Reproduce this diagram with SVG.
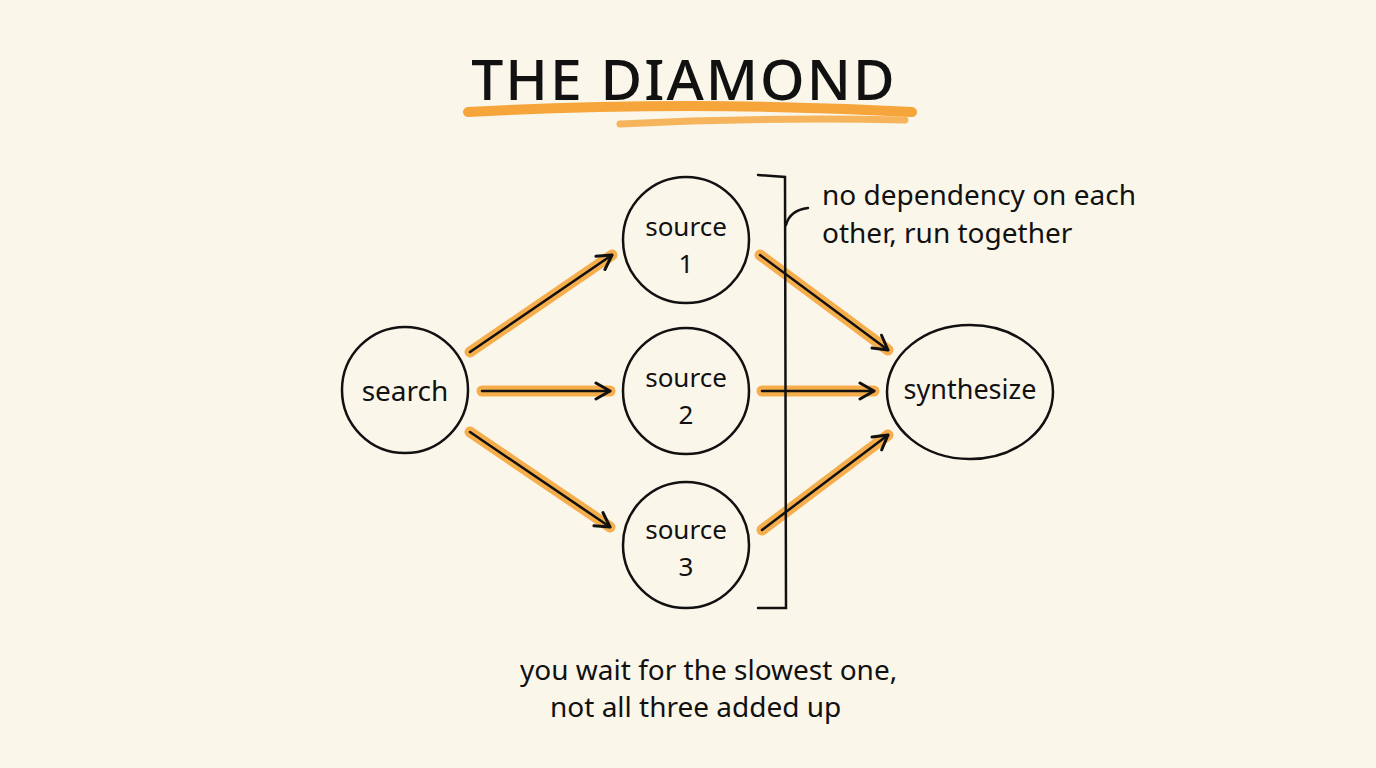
<svg xmlns="http://www.w3.org/2000/svg" width="1376" height="768" viewBox="0 0 1376 768">
<defs>
<marker id="ah" viewBox="0 0 20 20" refX="17" refY="10" markerWidth="20" markerHeight="20" markerUnits="userSpaceOnUse" orient="auto">
<path d="M3,2 L17,10 L3,18" fill="none" stroke="#111" stroke-width="3" stroke-linecap="round" stroke-linejoin="round"/>
</marker>
<style>
.n{fill:none;stroke:#111;stroke-width:2.5}
.t{font-family:"Noto Sans",sans-serif;fill:#111;text-anchor:middle}
.glow{stroke:#f5a53a;stroke-width:11;stroke-linecap:round;fill:none;opacity:0.9}
.ln{stroke:#111;stroke-width:2.5;fill:none;stroke-linecap:round}
</style>
</defs>
<rect width="1376" height="768" fill="#fbf6ea"/>
<g id="title">
<path d="M468,112 Q690,100 912,112" stroke="#f5a53a" stroke-width="10" stroke-linecap="round" fill="none"/>
<path d="M620,124 Q760,117 905,120" stroke="#f5a53a" stroke-width="7" stroke-linecap="round" fill="none" opacity="0.8"/>
<text x="684" y="100" class="t" font-size="57" letter-spacing="2" font-weight="500">THE DIAMOND</text>
</g>
<g id="connectors">
<path class="glow" d="M470,352 L612,255"/><path class="ln" d="M470,352 L612,255" marker-end="url(#ah)"/>
<path class="glow" d="M482,391 L610,391"/><path class="ln" d="M482,391 L610,391" marker-end="url(#ah)"/>
<path class="glow" d="M470,432 L610,527"/><path class="ln" d="M470,432 L610,527" marker-end="url(#ah)"/>
<path class="glow" d="M760,255 L888,350"/><path class="ln" d="M760,255 L888,350" marker-end="url(#ah)"/>
<path class="glow" d="M762,391 L874,391"/><path class="ln" d="M762,391 L874,391" marker-end="url(#ah)"/>
<path class="glow" d="M762,530 L888,435"/><path class="ln" d="M762,530 L888,435" marker-end="url(#ah)"/>
</g>
<g id="search"><circle class="n" cx="405" cy="390" r="63"/><text class="t" x="405" y="401" font-size="28">search</text></g>
<g id="source1"><circle class="n" cx="686" cy="240" r="63"/><text class="t" x="686" y="236" font-size="26">source</text><text class="t" x="686" y="273" font-size="26">1</text></g>
<g id="source2"><circle class="n" cx="686" cy="391" r="63"/><text class="t" x="686" y="387" font-size="26">source</text><text class="t" x="686" y="424" font-size="26">2</text></g>
<g id="source3"><circle class="n" cx="686" cy="545" r="63"/><text class="t" x="686" y="539" font-size="26">source</text><text class="t" x="686" y="576" font-size="26">3</text></g>
<g id="synthesize"><ellipse class="n" cx="970" cy="392" rx="83" ry="67"/><text class="t" x="970" y="399" font-size="27">synthesize</text></g>
<g id="bracket">
<path class="ln" d="M758,175 L785,177 L786,608 L758,608"/>
<path class="ln" d="M786,225 Q790,210 808,208"/>
</g>
<g id="notes">
<text x="822" y="205" font-family="Noto Sans,sans-serif" font-size="28" fill="#111">no dependency on each</text>
<text x="822" y="243" font-family="Noto Sans,sans-serif" font-size="28" fill="#111">other, run together</text>
<text x="520" y="680" font-family="Noto Sans,sans-serif" font-size="28" fill="#111">you wait for the slowest one,</text>
<text x="550" y="717" font-family="Noto Sans,sans-serif" font-size="28" fill="#111">not all three added up</text>
</g>
</svg>
